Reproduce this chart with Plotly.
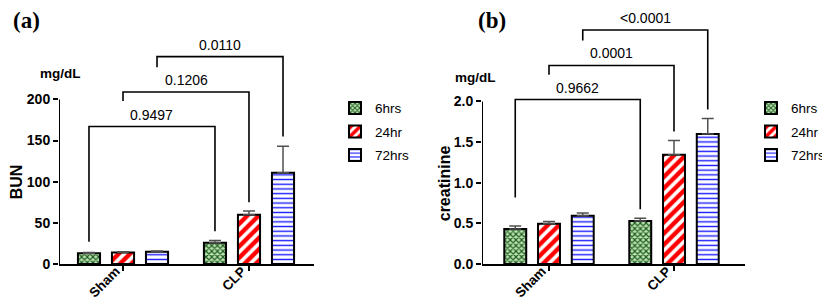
import plotly.graph_objects as go

# ---------------- data ----------------
groups = ["Sham", "CLP"]
series = ["6hrs", "24hr", "72hrs"]

bun_mean = {"6hrs": [13, 26], "24hr": [14, 60], "72hrs": [15, 111]}
bun_err = {"6hrs": [1, 2.5], "24hr": [1, 4.5], "72hrs": [1, 32]}

crea_mean = {"6hrs": [0.43, 0.53], "24hr": [0.495, 1.345], "72hrs": [0.595, 1.60]}
crea_err = {"6hrs": [0.037, 0.035], "24hr": [0.03, 0.175], "72hrs": [0.032, 0.19]}

# brackets: (left group, left series, right group, right series, height, left leg end, right leg end, label)
bun_brackets = [
    (0, "6hrs", 1, "6hrs", 167, 27, 40, "0.9497"),
    (0, "24hr", 1, "24hr", 209, 198, 75, "0.1206"),
    (0, "72hrs", 1, "72hrs", 252, 239, 155, "0.0110"),
]
crea_brackets = [
    (0, "6hrs", 1, "6hrs", 2.024, 0.82, 0.674, "0.9662"),
    (0, "24hr", 1, "24hr", 2.443, 2.33, 1.63, "0.0001"),
    (0, "72hrs", 1, "72hrs", 2.88, 2.75, 1.90, "<0.0001"),
]

bun_ticks = [0, 50, 100, 150, 200]
crea_ticks = [0.0, 0.5, 1.0, 1.5, 2.0]
crea_ticktext = ["0.0", "0.5", "1.0", "1.5", "2.0"]

# ---------------- style ----------------
W, H = 830, 304
BARGAP = 0.19
BARGROUPGAP = 0.35
slot = (1 - BARGAP) / 3
offsets = {s: (i - 1) * slot for i, s in enumerate(series)}

patterns = {
    "6hrs": dict(shape="x", fgcolor="#1e5e1e", bgcolor="#bfe3b6", size=4, solidity=0.5,
                 fgopacity=1, fillmode="replace"),
    "24hr": dict(shape="/", fgcolor="#ff0000", bgcolor="#ffffff", size=8, solidity=0.55,
                 fgopacity=1, fillmode="replace"),
    "72hrs": dict(shape="-", fgcolor="#1a1aff", bgcolor="#ffffff", size=4.7, solidity=0.3,
                  fgopacity=1, fillmode="replace"),
}

FONT = "Liberation Sans, Arial, sans-serif"

fig = go.Figure()

def add_panel(means, errs, xa, ya, legend):
    for s in series:
        fig.add_trace(go.Bar(
            x=[0, 1], y=means[s], name=s,
            xaxis=xa, yaxis=ya, legend=legend, legendgroup=s + legend,
            marker=dict(color="white", opacity=1, pattern=patterns[s],
                        line=dict(color="black", width=2)),
            error_y=dict(type="data", symmetric=False, array=errs[s],
                         arrayminus=[0, 0], color="#505050", thickness=1.5, width=6),
        ))

add_panel(bun_mean, bun_err, "x", "y", "legend")
add_panel(crea_mean, crea_err, "x2", "y2", "legend2")

def add_brackets(brackets, xref, yref):
    for (g1, s1, g2, s2, h, l1, l2, lab) in brackets:
        xl = g1 + offsets[s1]
        xr = g2 + offsets[s2]
        fig.add_shape(type="path",
                      path=f"M {xl},{l1} L {xl},{h} L {xr},{h} L {xr},{l2}",
                      xref=xref, yref=yref, line=dict(color="black", width=1.6))
        fig.add_annotation(x=(xl + xr) / 2, y=h, xref=xref, yref=yref, text=lab,
                           showarrow=False, yanchor="bottom", yshift=2,
                           font=dict(family=FONT, size=14, color="black"))

add_brackets(bun_brackets, "x", "y")
add_brackets(crea_brackets, "x2", "y2")

# y-axis lines (only up to top tick)
x1_range = [-0.508, 1.516]
x2_range = [-0.536, 1.568]
fig.add_shape(type="line", x0=x1_range[0], x1=x1_range[0], y0=0, y1=bun_ticks[-1],
              xref="x", yref="y", line=dict(color="black", width=2))
fig.add_shape(type="line", x0=x2_range[0], x1=x2_range[0], y0=0, y1=crea_ticks[-1],
              xref="x2", yref="y2", line=dict(color="black", width=2))

ydom = [41 / H, 1]
common_x = dict(tickmode="array", tickvals=[0, 1], ticktext=groups, tickangle=-45,
                showline=True, linecolor="black", linewidth=2, ticks="outside",
                ticklen=5, tickwidth=1.5, tickcolor="black", showgrid=False, zeroline=False,
                ticklabelstandoff=-13, ticklabelshift=-7,
                tickfont=dict(family=FONT, size=13.5, color="black", weight="bold"),
                fixedrange=True)
common_y = dict(showline=False, ticks="outside", ticklen=5, tickwidth=1.5,
                tickcolor="black", showgrid=False, zeroline=False, tickmode="array",
                tickfont=dict(family=FONT, size=14, color="black", weight="bold"))

fig.update_layout(
    width=W, height=H, margin=dict(l=0, r=0, t=0, b=0),
    paper_bgcolor="white", plot_bgcolor="white",
    barmode="group", bargap=BARGAP, bargroupgap=BARGROUPGAP,
    xaxis=dict(domain=[51 / W, 306 / W], range=x1_range, anchor="y", **common_x),
    yaxis=dict(domain=ydom, range=[0, 311], anchor="x", tickvals=bun_ticks, **common_y),
    xaxis2=dict(domain=[474 / W, 737 / W], range=x2_range, anchor="y2", **common_x),
    yaxis2=dict(domain=ydom, range=[0, 3.15], anchor="x2", tickvals=crea_ticks,
                ticktext=crea_ticktext, **common_y),
    legend=dict(x=327 / W, y=1 - 87 / H, xanchor="left", yanchor="top",
                font=dict(family=FONT, size=13.5, color="black"), tracegroupgap=3,
                bgcolor="rgba(0,0,0,0)"),
    legend2=dict(x=743 / W, y=1 - 87 / H, xanchor="left", yanchor="top",
                 font=dict(family=FONT, size=13.5, color="black"), tracegroupgap=3,
                 bgcolor="rgba(0,0,0,0)"),
    showlegend=True,
)

def txt(x, y, text, size, bold=True, angle=0, family=FONT):
    fig.add_annotation(x=x / W, y=1 - y / H, xref="paper", yref="paper", text=text,
                       showarrow=False, textangle=angle, xanchor="center", yanchor="middle",
                       font=dict(family=family, size=size, color="black",
                                 weight="bold" if bold else "normal"))

txt(18, 13, "(a)", 23, family="Liberation Serif, Times New Roman, serif")
txt(484, 13, "(b)", 23, family="Liberation Serif, Times New Roman, serif")
txt(52, 67, "mg/dL", 13.5)
txt(467, 71, "mg/dL", 13.5)
txt(8, 179, "BUN", 16, angle=-90)
txt(436, 180, "creatinine", 16, angle=-90)

fig.write_html("out.html")
